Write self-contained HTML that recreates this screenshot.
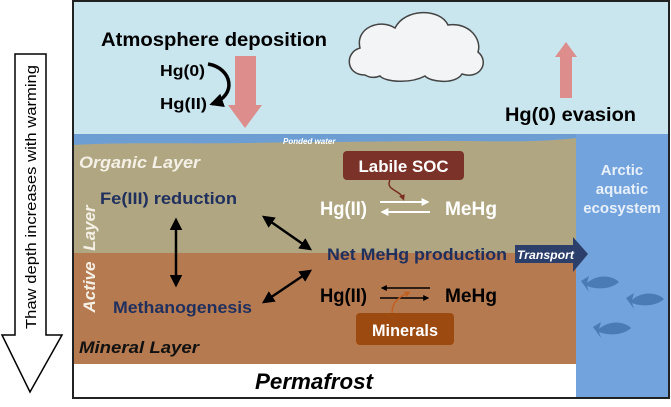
<!DOCTYPE html>
<html><head><meta charset="utf-8"><style>
body{margin:0;width:671px;height:407px;background:#fff;overflow:hidden}
svg{display:block}
text{font-family:"Liberation Sans",Arial,sans-serif;font-weight:bold}
</style></head><body>
<svg width="671" height="407" viewBox="0 0 671 407" xmlns="http://www.w3.org/2000/svg">
<defs>
<marker id="ah" viewBox="0 0 10 10" refX="8" refY="5" markerWidth="5" markerHeight="5" orient="auto-start-reverse"><path d="M0,0 L10,5 L0,10 z" fill="#000"/></marker>
<marker id="aw" viewBox="0 0 10 10" refX="8" refY="5" markerWidth="4" markerHeight="4" orient="auto"><path d="M0,0 L10,5 L0,10 z" fill="#fff"/></marker>
<marker id="ab" viewBox="0 0 10 10" refX="8" refY="5" markerWidth="4" markerHeight="4" orient="auto"><path d="M0,0 L10,5 L0,10 z" fill="#000"/></marker>
<marker id="ar" viewBox="0 0 10 10" refX="5" refY="5" markerWidth="4" markerHeight="4" orient="auto"><path d="M0,0 L10,5 L0,10 z" fill="#7a2e22"/></marker>
<marker id="ao" viewBox="0 0 10 10" refX="5" refY="5" markerWidth="4" markerHeight="4" orient="auto"><path d="M0,0 L10,5 L0,10 z" fill="#c06020"/></marker>
</defs>
<path d="M15,54 H46 V335 H62 L30,392 L2,335 H15 Z" fill="#fff" stroke="#000" stroke-width="1.5"/>
<text transform="translate(36,197) rotate(-90)" text-anchor="middle" font-size="15" fill="#000" textLength="264" lengthAdjust="spacingAndGlyphs" style="font-weight:normal">Thaw depth increases with warming</text>
<rect x="73" y="1" width="596" height="137" fill="#c9e5ee"/>
<rect x="73" y="138" width="504" height="116" fill="#b0a782"/>
<rect x="73" y="253" width="504" height="111" fill="#b67a50"/>
<rect x="73" y="364" width="504" height="34" fill="#fff"/>
<path d="M73,134 H577 V138 C520,144 480,140 430,141 C350,142 300,142 250,143 C180,144 120,142 73,145 Z" fill="#6c9ed4"/>
<rect x="576" y="134" width="93" height="264" fill="#73a3dc"/>
<rect x="73" y="1" width="596" height="397" fill="none" stroke="#222" stroke-width="2"/>
<path d="M365,75 C345,75 345,52 360,48 C355,28 380,18 395,28 C405,8 440,8 448,25 C470,22 482,40 478,52 C490,62 480,80 462,74 C455,85 430,82 425,76 C410,84 385,82 380,76 C375,78 370,78 365,75 Z" fill="#f2f4f5" stroke="#444" stroke-width="1.5"/>
<text x="101" y="46" font-size="19" fill="#000" textLength="226" lengthAdjust="spacingAndGlyphs">Atmosphere deposition</text>
<text x="160" y="76" font-size="16" fill="#000" textLength="45" lengthAdjust="spacingAndGlyphs">Hg(0)</text>
<text x="160" y="109" font-size="16" fill="#000" textLength="47" lengthAdjust="spacingAndGlyphs">Hg(II)</text>
<path d="M208,64 C232,68 238,95 212,104" fill="none" stroke="#000" stroke-width="3.5" marker-end="url(#ab)"/>
<path d="M235,56 H256 V105 H262 L245,128 L228,105 H235 Z" fill="#dd8e8c"/>
<path d="M560,98 V57 H555 L566,42 L577,57 H572 V98 Z" fill="#dd8e8c"/>
<text x="505" y="121" font-size="19" fill="#000" textLength="131" lengthAdjust="spacingAndGlyphs">Hg(0) evasion</text>
<text x="283" y="144" font-size="8" font-style="italic" fill="#fff">Ponded water</text>
<text x="79" y="168" font-size="17" font-style="italic" fill="#f4f0e6" textLength="121" lengthAdjust="spacingAndGlyphs">Organic Layer</text>
<text transform="translate(95,228) rotate(-90)" text-anchor="middle" font-size="17" font-style="italic" fill="#f4f0e6">Layer</text>
<text transform="translate(95,287) rotate(-90)" text-anchor="middle" font-size="17" font-style="italic" fill="#f4f0e6">Active</text>
<text x="79" y="353" font-size="17" font-style="italic" fill="#111" textLength="120" lengthAdjust="spacingAndGlyphs">Mineral Layer</text>
<text x="255" y="389" font-size="22" font-style="italic" fill="#000" textLength="118" lengthAdjust="spacingAndGlyphs">Permafrost</text>
<text x="100" y="204" font-size="17" fill="#1f2f5e" textLength="137" lengthAdjust="spacingAndGlyphs">Fe(III) reduction</text>
<text x="113" y="313" font-size="17" fill="#1f2f5e" textLength="139" lengthAdjust="spacingAndGlyphs">Methanogenesis</text>
<text x="327" y="260" font-size="17" fill="#1f2f5e" textLength="180" lengthAdjust="spacingAndGlyphs">Net MeHg production</text>
<line x1="176" y1="220" x2="176" y2="285" stroke="#000" stroke-width="2.5" marker-start="url(#ah)" marker-end="url(#ah)"/>
<line x1="264" y1="217" x2="310" y2="249" stroke="#000" stroke-width="2.5" marker-start="url(#ah)" marker-end="url(#ah)"/>
<line x1="264" y1="302" x2="310" y2="271" stroke="#000" stroke-width="2.5" marker-start="url(#ah)" marker-end="url(#ah)"/>
<rect x="343" y="151" width="121" height="29" rx="4" fill="#7b3228"/>
<text x="403.5" y="172" text-anchor="middle" font-size="17" fill="#fff" textLength="90" lengthAdjust="spacingAndGlyphs">Labile SOC</text>
<path d="M390,180 C385,190 400,190 403,198" fill="none" stroke="#7a2e22" stroke-width="1.5" marker-end="url(#ar)"/>
<text x="320" y="215" font-size="19" fill="#fff" textLength="47" lengthAdjust="spacingAndGlyphs">Hg(II)</text>
<text x="445" y="215" font-size="19" fill="#fff" textLength="52" lengthAdjust="spacingAndGlyphs">MeHg</text>
<line x1="380" y1="202" x2="428" y2="202" stroke="#fff" stroke-width="2" marker-end="url(#aw)"/>
<line x1="430" y1="212" x2="382" y2="212" stroke="#fff" stroke-width="2" marker-end="url(#aw)"/>
<text x="320" y="302" font-size="19" fill="#000" textLength="47" lengthAdjust="spacingAndGlyphs">Hg(II)</text>
<text x="445" y="302" font-size="19" fill="#000" textLength="52" lengthAdjust="spacingAndGlyphs">MeHg</text>
<line x1="430" y1="288" x2="382" y2="288" stroke="#000" stroke-width="1.5" marker-end="url(#ab)"/>
<line x1="380" y1="298" x2="428" y2="298" stroke="#000" stroke-width="1.5" marker-end="url(#ab)"/>
<rect x="356" y="313" width="98" height="32" rx="4" fill="#9c4a10"/>
<text x="405" y="336" text-anchor="middle" font-size="17" fill="#fff" textLength="66" lengthAdjust="spacingAndGlyphs">Minerals</text>
<path d="M392,313 C392,300 402,296 408,293" fill="none" stroke="#c06020" stroke-width="1.5" marker-end="url(#ao)"/>
<path d="M515,245 H573 V237 L588,254 L573,272 V263 H515 Z" fill="#2c3f6b"/>
<text x="517" y="259" font-size="12" font-style="italic" fill="#fff" textLength="57" lengthAdjust="spacingAndGlyphs">Transport</text>
<text x="622" y="175" text-anchor="middle" font-size="15" fill="#e8f0fa">Arctic</text>
<text x="622" y="194" text-anchor="middle" font-size="15" fill="#e8f0fa">aquatic</text>
<text x="622" y="213" text-anchor="middle" font-size="15" fill="#e8f0fa">ecosystem</text>
<g fill="#4a7bb4">
<path d="M581,281 L589,276 L587,283 C597,274 612,275 619,282 C612,289 597,290 587,286 L589,292 Z"/>
<path d="M626,298 L634,293 L632,300 C642,291 657,292 664,299 C657,306 642,307 632,303 L634,309 Z"/>
<path d="M593,327 L601,322 L599,329 C609,320 624,321 631,328 C624,335 609,336 599,332 L601,338 Z"/>
</g>
</svg>
</body></html>
